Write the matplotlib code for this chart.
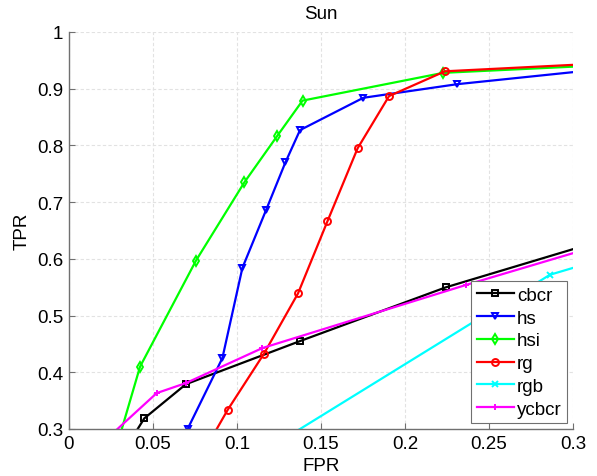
import matplotlib
matplotlib.use('Agg')
import matplotlib.pyplot as plt

plt.rcParams['font.family'] = ['Liberation Sans', 'DejaVu Sans']

# ROC points (points outside the axes only carry the lines to the edges)
cbcr_fpr = [0.035, 0.0448, 0.0696, 0.1375, 0.2242, 0.40]
cbcr_tpr = [0.272, 0.3187, 0.379, 0.455, 0.5497, 0.706]

hs_fpr = [0.0706, 0.0913, 0.1032, 0.1173, 0.1288, 0.1375, 0.1752, 0.2311, 0.40]
hs_tpr = [0.300, 0.425, 0.584, 0.686, 0.770, 0.827, 0.884, 0.908, 0.960]

hsi_fpr = [0.025, 0.0423, 0.0756, 0.1044, 0.124, 0.139, 0.2228, 0.40]
hsi_tpr = [0.235, 0.410, 0.597, 0.735, 0.817, 0.879, 0.928, 0.953]

rg_fpr = [0.080, 0.0945, 0.1161, 0.1363, 0.1538, 0.1718, 0.1905, 0.2238, 0.40]
rg_tpr = [0.259, 0.334, 0.433, 0.539, 0.666, 0.795, 0.887, 0.9307, 0.957]

rgb_fpr = [0.110, 0.2863, 0.40]
rgb_tpr = [0.2497, 0.572, 0.672]

ycbcr_fpr = [0.020, 0.0522, 0.0696, 0.1151, 0.2361, 0.40]
ycbcr_tpr = [0.276, 0.3633, 0.381, 0.4427, 0.5538, 0.698]

series = [
    ('cbcr', cbcr_fpr, cbcr_tpr, 'k', 's'),
    ('hs', hs_fpr, hs_tpr, 'b', 'v'),
    ('hsi', hsi_fpr, hsi_tpr, '#00ff00', 'd'),
    ('rg', rg_fpr, rg_tpr, 'r', 'o'),
    ('rgb', rgb_fpr, rgb_tpr, '#00ffff', 'x'),
    ('ycbcr', ycbcr_fpr, ycbcr_tpr, '#ff00ff', '+'),
]

fig = plt.figure(figsize=(5.97, 4.77), dpi=100)
ax = fig.add_axes([69 / 597, 47 / 477, 504 / 597, 397 / 477])

for name, xs, ys, col, mk in series:
    ax.plot(xs, ys, color=col, lw=1.6, marker=mk, markersize=5,
            markerfacecolor='none', markeredgewidth=1.4, label=name)

ax.set_xlim(0, 0.3)
ax.set_ylim(0.3, 1)
ax.set_xticks([0, 0.05, 0.1, 0.15, 0.2, 0.25, 0.3])
ax.set_xticklabels(['0', '0.05', '0.1', '0.15', '0.2', '0.25', '0.3'])
ax.set_yticks([0.3, 0.4, 0.5, 0.6, 0.7, 0.8, 0.9, 1])
ax.set_yticklabels(['0.3', '0.4', '0.5', '0.6', '0.7', '0.8', '0.9', '1'])

ax.grid(True, color='#e2e2e2', linestyle=(0, (3, 2)), lw=0.8)
ax.set_axisbelow(True)
for s in ['top', 'right']:
    ax.spines[s].set_visible(False)
for s in ['left', 'bottom']:
    ax.spines[s].set_color('#707070')
    ax.spines[s].set_linewidth(1.0)
ax.tick_params(direction='in', length=4, color='#707070', labelsize=13.5, pad=4)

ax.set_title('Sun', fontsize=13.5, pad=10)
ax.set_xlabel('FPR', fontsize=13.5, labelpad=4)
ax.set_ylabel('TPR', fontsize=13.5, labelpad=5)

leg = ax.legend(loc='lower right', fontsize=13.5, numpoints=1, fancybox=False,
                framealpha=1, edgecolor='#707070', borderaxespad=0.3,
                handlelength=2.0, handletextpad=0.15, labelspacing=0.3,
                borderpad=0.3)
leg.get_frame().set_linewidth(0.8)

fig.savefig('out.png', dpi=100)
